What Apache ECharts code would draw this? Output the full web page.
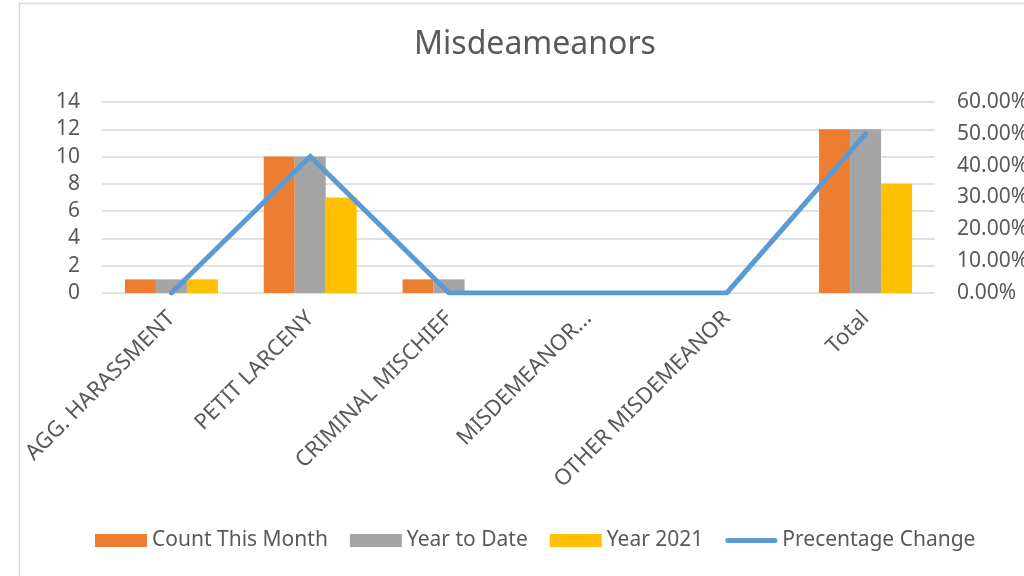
<!DOCTYPE html>
<html>
<head>
<meta charset="utf-8">
<script src="https://cdn.jsdelivr.net/npm/echarts@6/dist/echarts.min.js"></script>
<style>
html,body{margin:0;padding:0;background:#fff;}
#chart{width:1024px;height:576px;}
</style>
</head>
<body>
<div id="chart"></div>
<script>
// 数据
var categories = ['AGG. HARASSMENT', 'PETIT LARCENY', 'CRIMINAL MISCHIEF', 'MISDEMEANOR...', 'OTHER MISDEMEANOR', 'Total']
var countThisMonth = [1, 10, 1, 0, 0, 12]
var yearToDate = [1, 10, 1, 0, 0, 12]
var year2021 = [1, 7, 0, 0, 0, 8]
var pctChange = [0, 42.86, 0, 0, 0, 50] // 百分比
var seriesNames = ['Count This Month', 'Year to Date', 'Year 2021', 'Precentage Change']

var FONT = '"Noto Sans", sans-serif'
var TXT = '#595959'

var chart = echarts.init(document.getElementById('chart'))
chart.setOption({
	animation: false,
	color: ['#ed7d31', '#a5a5a5', '#ffc000', '#5b9bd5'],
	title: {
		text: 'Misdeameanors',
		left: 530,
		textAlign: 'center',
		top: 24,
		textStyle: { fontFamily: FONT, fontWeight: 'normal', fontSize: 32, color: TXT }
	},
	graphic: [{
		// 外边框
		type: 'rect',
		shape: { x: 19.5, y: 3.5, width: 1100, height: 700 },
		style: { fill: 'none', stroke: '#d9d9d9', lineWidth: 1.5 },
		silent: true
	}],
	legend: {
		left: 95,
		top: 530,
		padding: 0,
		itemWidth: 52,
		itemHeight: 13,
		itemGap: 22,
		textStyle: { fontFamily: FONT, fontSize: 21, color: TXT },
		data: [
			{ name: seriesNames[0], icon: 'rect' },
			{ name: seriesNames[1], icon: 'rect' },
			{ name: seriesNames[2], icon: 'rect' },
			{ name: seriesNames[3], icon: 'path://M2.5,0 L49.5,0 A2.5,2.5 0 0 1 49.5,5 L2.5,5 A2.5,2.5 0 0 1 2.5,0 Z' }
		]
	},
	grid: {
		left: 102,
		right: 89,
		top: 102,
		bottom: 283,
		outerBoundsMode: 'none',
		containLabel: false
	},
	xAxis: {
		type: 'category',
		data: categories,
		axisLine: { show: false },
		axisTick: { show: false },
		axisLabel: {
			rotate: 45,
			interval: 0,
			margin: 22,
			fontFamily: FONT,
			fontSize: 22,
			color: TXT
		}
	},
	yAxis: [
		{
			type: 'value',
			min: 0,
			max: 14,
			interval: 2,
			axisLine: { show: false },
			axisTick: { show: false },
			splitLine: { lineStyle: { color: '#d9d9d9', width: 1.5 } },
			axisLabel: { margin: 22, fontFamily: FONT, fontSize: 21, color: TXT }
		},
		{
			type: 'value',
			min: 0,
			max: 60,
			interval: 10,
			axisLine: { show: false },
			axisTick: { show: false },
			splitLine: { show: false },
			axisLabel: {
				margin: 22,
				fontFamily: FONT,
				fontSize: 21,
				color: TXT,
				formatter: function (v) { return v.toFixed(2) + '%' }
			}
		}
	],
	series: [
		{ name: seriesNames[0], type: 'bar', data: countThisMonth, barGap: 0, barCategoryGap: '33%' },
		{ name: seriesNames[1], type: 'bar', data: yearToDate, barGap: 0, barCategoryGap: '33%' },
		{ name: seriesNames[2], type: 'bar', data: year2021, barGap: 0, barCategoryGap: '33%' },
		{
			name: seriesNames[3],
			type: 'line',
			yAxisIndex: 1,
			data: pctChange,
			showSymbol: false,
			symbol: 'none',
			lineStyle: { width: 5, color: '#5b9bd5', cap: 'round', join: 'miter' },
			itemStyle: { color: '#5b9bd5' },
			z: 5
		}
	]
})
</script>
</body>
</html>
